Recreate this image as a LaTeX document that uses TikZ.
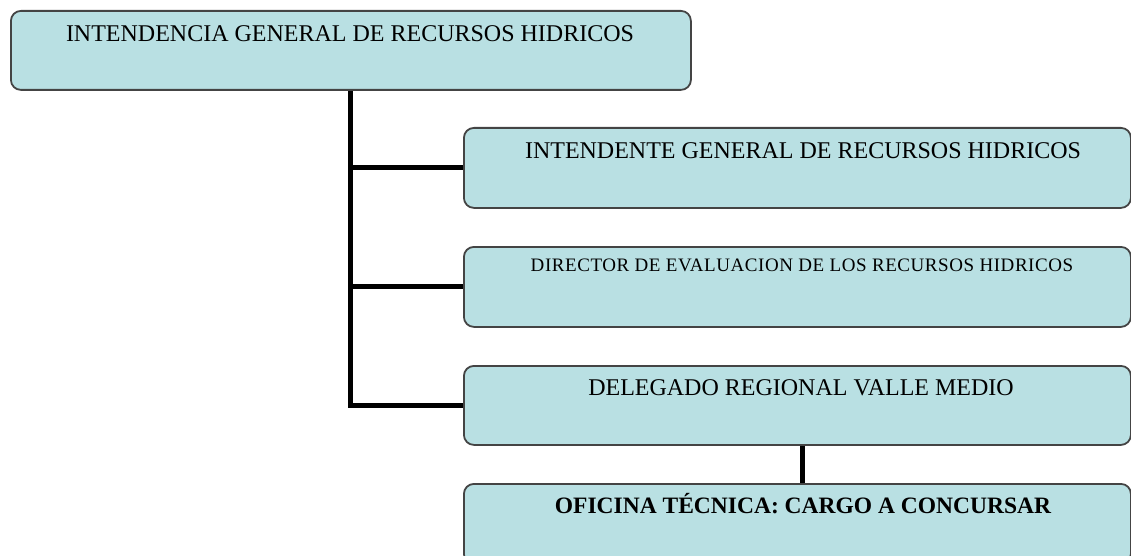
\documentclass[tikz,border=0pt]{standalone}
\usepackage{fontspec}
\setmainfont{Liberation Serif}
\usetikzlibrary{calc}
\definecolor{boxfill}{HTML}{B9E0E3}
\definecolor{boxline}{HTML}{444444}
\begin{document}
\begin{tikzpicture}[x=1pt,y=-1pt,
  orgbox/.style={rectangle,rounded corners=10pt,draw=boxline,fill=boxfill,line width=1.8pt,inner sep=0pt,anchor=north west},
  conn/.style={line width=5pt,black},
  lbl/.style={anchor=base,inner sep=0pt,font=\fontsize{24}{26}\selectfont},
  smalllbl/.style={anchor=base,inner sep=0pt,font=\fontsize{19}{21}\selectfont\addfontfeature{LetterSpace=3}},
  boldlbl/.style={anchor=base,inner sep=0pt,font=\fontsize{23.5}{26}\selectfont\bfseries}]
\useasboundingbox (0,0) rectangle (1131,556);
\clip (0,0) rectangle (1131,556);
% boxes
\node[orgbox,minimum width=680pt,minimum height=79pt] (b0) at (10,10) {};
\node[orgbox,minimum width=667pt,minimum height=80pt] (b1) at (463,127) {};
\node[orgbox,minimum width=667pt,minimum height=80pt] (b2) at (463,246) {};
\node[orgbox,minimum width=667pt,minimum height=79pt] (b3) at (463,365) {};
\node[orgbox,minimum width=667pt,minimum height=80pt] (b4) at (463,483) {};
% connectors
\coordinate (c) at (802,0);
\draw[conn] (b0.south) |- (b3.west);
\draw[conn] (b0.south |- b1.west) -- (b1.west);
\draw[conn] (b0.south |- b2.west) -- (b2.west);
\draw[conn] (c |- b3.south) -- (c |- b4.north);
% labels
\node[lbl] (t0) at (350,42) {INTENDENCIA GENERAL DE RECURSOS HIDRICOS};
\node[lbl] (t1) at (803,159) {INTENDENTE GENERAL DE RECURSOS HIDRICOS};
\node[smalllbl] (t2) at (802,271) {DIRECTOR DE EVALUACION DE LOS RECURSOS HIDRICOS};
\node[lbl] (t3) at (801,395) {DELEGADO REGIONAL VALLE MEDIO};
\node[boldlbl] (t4) at (803,513) {OFICINA TÉCNICA: CARGO A CONCURSAR};
\end{tikzpicture}
\end{document}
